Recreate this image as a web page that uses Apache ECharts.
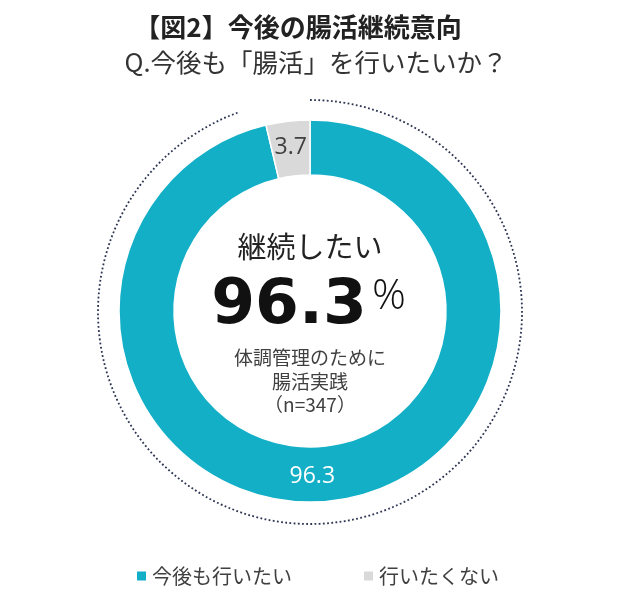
<!DOCTYPE html>
<html>
<head>
<meta charset="utf-8">
<script src="https://cdn.jsdelivr.net/npm/echarts@6/dist/echarts.min.js"></script>
<style>
  html, body { margin: 0; padding: 0; background: #fff; }
  #chart { width: 640px; height: 597px; }
</style>
</head>
<body>
<div id="chart"></div>
<script>
var categories = ['今後も行いたい', '行いたくない'];
var shares = [96.3, 3.7];
var colors = ['#12afc7', '#d9d9d9'];
var labelColors = ['#ffffff', '#404040'];
var sampleSize = 347;

var jpFont = '"Noto Sans CJK JP", "Noto Sans", sans-serif';

var myChart = echarts.init(document.getElementById('chart'));

// 中心位置（ドーナツと点線リングで共通）
var cx = 310, cy = 311;

var pieData = categories.map(function (name, i) {
    return {
        name: name,
        value: shares[i],
        itemStyle: { color: colors[i] },
        label: {
            color: labelColors[i],
            offset: i === 0 ? [-17, 0] : [0, 2]
        }
    };
});

var option = {
    animation: false,
    title: [
        {
            text: '【図2】今後の腸活継続意向',
            left: 293,
            top: 9,
            textAlign: 'center',
            textStyle: { fontFamily: jpFont, fontSize: 26, fontWeight: 'bold', color: '#222' }
        },
        {
            text: 'Q.今後も「腸活」を行いたいか？',
            left: 311,
            top: 45,
            textAlign: 'center',
            textStyle: { fontFamily: jpFont, fontSize: 25.5, fontWeight: 'normal', color: '#333' }
        }
    ],
    legend: {
        data: categories,
        left: 130,
        top: 561,
        icon: 'rect',
        itemWidth: 11,
        itemHeight: 11,
        itemGap: 70,
        textStyle: { fontFamily: jpFont, fontSize: 20, color: '#404040' }
    },
    graphic: [
        {
            // 外側の点線リング
            type: 'arc',
            silent: true,
            shape: {
                cx: cx,
                cy: cy + 1,
                r: 212,
                startAngle: -Math.PI / 2,
                endAngle: -Math.PI / 2 - 19.5 * Math.PI / 180 + Math.PI * 2,
                clockwise: true
            },
            style: { stroke: '#2b3452', lineWidth: 1.8, lineDash: [1.8, 2.4], fill: null }
        },
        {
            type: 'text', x: cx, y: 247,
            style: { text: '継続したい', font: '29px ' + jpFont, fill: '#222', align: 'center', verticalAlign: 'middle' }
        },
        {
            type: 'text', x: 289, y: 307,
            style: { text: '96.3', font: 'bold 63px "DejaVu Sans", sans-serif', fill: '#111', align: 'center', verticalAlign: 'middle' }
        },
        {
            type: 'text', x: 389, y: 297,
            style: { text: '%', font: '300 42px "Open Sans", sans-serif', fill: '#111', align: 'center', verticalAlign: 'middle' }
        },
        {
            type: 'text', x: cx, y: 358,
            style: { text: '体調管理のために', font: '19px ' + jpFont, fill: '#404040', align: 'center', verticalAlign: 'middle' }
        },
        {
            type: 'text', x: cx, y: 382,
            style: { text: '腸活実践', font: '19px ' + jpFont, fill: '#404040', align: 'center', verticalAlign: 'middle' }
        },
        {
            type: 'text', x: cx, y: 405,
            style: { text: '（n=' + sampleSize + '）', font: '19px ' + jpFont, fill: '#404040', align: 'center', verticalAlign: 'middle' }
        }
    ],
    series: [
        {
            type: 'pie',
            center: [cx, cy],
            radius: [136, 191],
            startAngle: 90,
            clockwise: true,
            silent: true,
            itemStyle: { borderColor: '#ffffff', borderWidth: 1.5 },
            label: {
                show: true,
                position: 'inside',
                formatter: '{c}',
                fontFamily: '"Open Sans", sans-serif',
                fontSize: 23
            },
            labelLine: { show: false },
            data: pieData
        }
    ]
};

myChart.setOption(option);
</script>
</body>
</html>
